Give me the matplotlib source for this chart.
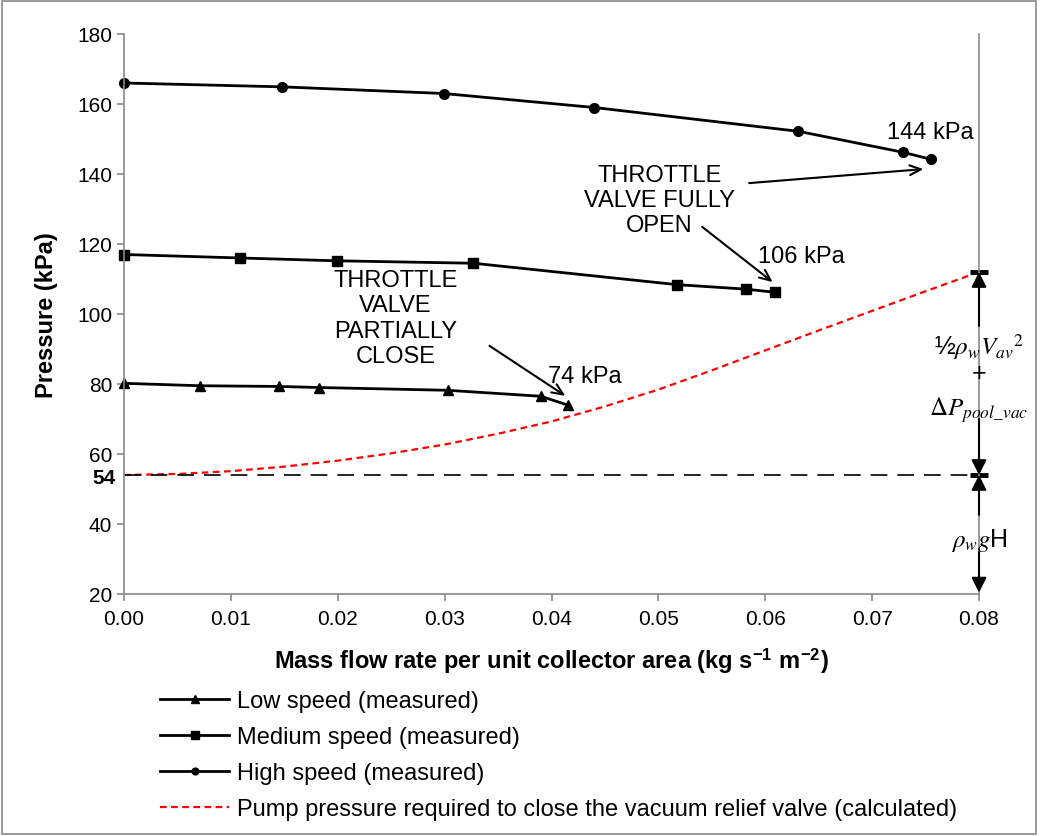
import matplotlib
matplotlib.use("Agg")
import matplotlib.pyplot as plt
from matplotlib.patches import Rectangle

plt.rcParams['font.family'] = ['Liberation Sans', 'DejaVu Sans']
plt.rcParams['mathtext.fontset'] = 'stix'

low_x = [0.0, 0.0071, 0.0145, 0.0182, 0.0303, 0.0390, 0.0415]
low_y = [80.2, 79.5, 79.3, 79.0, 78.2, 76.5, 74.0]

med_x = [0.0, 0.0109, 0.0199, 0.0327, 0.0517, 0.0582, 0.0609]
med_y = [117.0, 116.0, 115.2, 114.5, 108.4, 107.1, 106.2]

high_x = [0.0, 0.0148, 0.0299, 0.0440, 0.0631, 0.0729, 0.0755]
high_y = [166.0, 164.9, 163.0, 159.0, 152.2, 146.2, 144.2]

# calculated pump pressure
pump_x = [0.0, 0.005, 0.010, 0.015, 0.020, 0.025, 0.030, 0.035, 0.040,
          0.045, 0.050, 0.055, 0.060, 0.065, 0.070, 0.075, 0.080]
pump_y = [54.0, 54.3, 55.1, 56.4, 58.1, 60.2, 62.7, 65.8, 69.3,
          73.6, 78.4, 83.9, 89.6, 95.3, 100.9, 106.5, 112.0]

base_p = 54
x_ticks = [0.00, 0.01, 0.02, 0.03, 0.04, 0.05, 0.06, 0.07, 0.08]
y_ticks = [20, 40, 60, 80, 100, 120, 140, 160, 180]

fig = plt.figure(figsize=(10.4, 8.37), dpi=100)
ax = fig.add_axes([124 / 1040, 1 - 595 / 837, 855 / 1040, 560 / 837])

fs = 15
ax.plot(low_x, low_y, '-^', color='black', lw=2, ms=7.5, clip_on=False,
        label='Low speed (measured)')
ax.plot(med_x, med_y, '-s', color='black', lw=2, ms=7.5, clip_on=False,
        label='Medium speed (measured)')
ax.plot(high_x, high_y, '-o', color='black', lw=2, ms=7, clip_on=False,
        label='High speed (measured)')
ax.plot(pump_x, pump_y, color='#ff0000', lw=1.6, dashes=(3, 2),
        label='Pump pressure required to close the vacuum relief valve (calculated)')
ax.plot([x_ticks[0], x_ticks[-1]], [base_p, base_p], color='black', lw=1.2, dashes=(10, 6))

ax.set_xlim(0, 0.08)
ax.set_ylim(20, 180)
ax.set_xticks(x_ticks)
ax.set_xticklabels(['%.2f' % v for v in x_ticks])
ax.set_yticks(y_ticks)
for s in ['left', 'bottom', 'right']:
    ax.spines[s].set_color('#898989')
    ax.spines[s].set_linewidth(1.2)
ax.spines['top'].set_visible(False)
ax.tick_params(axis='both', colors='#898989', labelcolor='black', labelsize=fs,
               length=5, width=1.2)
ax.tick_params(axis='x', pad=6)
ax.tick_params(right=False)

ax.text(-0.0008, base_p - 0.6, '54', ha='right', va='center', fontsize=fs, fontweight='bold')
ax.set_ylabel('Pressure (kPa)', fontsize=17, fontweight='bold', labelpad=14)
ax.set_xlabel('Mass flow rate per unit collector area (kg s$^{\\mathregular{-1}}$ m$^{\\mathregular{-2}}$)',
              fontsize=17, fontweight='bold', labelpad=12)

# annotations
afs = 17
ax.text(high_x[-1] - 0.0001, 152, '144 kPa', ha='center', va='center', fontsize=afs)
ax.text(0.0634, 116.6, '106 kPa', ha='center', va='center', fontsize=afs)
ax.text(0.0431, 82.3, '74 kPa', ha='center', va='center', fontsize=afs)
ax.text(0.0501, 132.6, 'THROTTLE\nVALVE FULLY\nOPEN', ha='center', va='center',
        fontsize=afs, linespacing=1.2)
ax.text(0.0254, 98.9, 'THROTTLE\nVALVE\nPARTIALLY\nCLOSE', ha='center', va='center',
        fontsize=afs, linespacing=1.2)
aprops = dict(arrowstyle='->,head_length=0.8,head_width=0.35', color='black', lw=1.5,
              shrinkA=0, shrinkB=0)
ax.annotate('', xy=(0.0748, 141.4), xytext=(0.0585, 137.4), arrowprops=aprops)
ax.annotate('', xy=(0.0607, 109.1), xytext=(0.0541, 124.9), arrowprops=aprops)
ax.annotate('', xy=(0.0413, 76.6), xytext=(0.0342, 90.9), arrowprops=aprops)

# dimension arrows on the right
xr = x_ticks[-1]
top_p = pump_y[-1]
dprops = dict(arrowstyle='-|>,head_length=0.9,head_width=0.45', color='black', lw=1.5,
              shrinkA=0, shrinkB=0)
for y0, y1 in [(96.6, top_p), (70.0, base_p), (42.6, base_p), (32.0, 20.4)]:
    ax.annotate('', xy=(xr, y1), xytext=(xr, y0), arrowprops=dprops, annotation_clip=False)
for yb in [top_p, base_p]:
    ax.plot([xr - 0.0008, xr + 0.0008], [yb, yb], color='black', lw=3.5,
            solid_capstyle='butt', clip_on=False)
mfs = 18
ax.text(xr, 90.9, r'½$\rho_w V_{av}{}^2$', ha='center', va='center', fontsize=mfs)
ax.text(xr, 83.1, '+', ha='center', va='center', fontsize=mfs)
ax.text(xr, 72.9, r'$\Delta P_{pool\_vac}$', ha='center', va='center', fontsize=mfs)
ax.text(xr, 35.7, r'$\rho_w g$H', ha='center', va='center', fontsize=mfs)

fig.legend(loc='upper left', bbox_to_anchor=(148 / 1040, 1 - 679 / 837), frameon=False,
           fontsize=17, handlelength=2.95, labelspacing=0.6, markerscale=0.7,
           borderpad=0, handletextpad=0.3)

fig.patches.append(Rectangle((2 / 1040, 2 / 837), 1034 / 1040, 833 / 837,
                             transform=fig.transFigure, fill=False,
                             edgecolor='#898989', lw=1.2))

fig.savefig('out.png', dpi=100)
